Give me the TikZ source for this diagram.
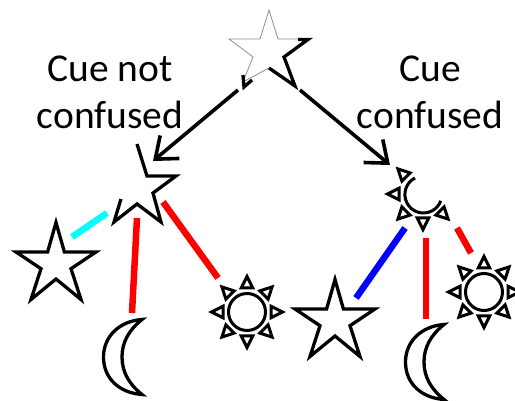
\documentclass[tikz,border=0pt]{standalone}
\usepackage{fontspec}
\setmainfont{Carlito}
\usetikzlibrary{arrows.meta}
\definecolor{purecyan}{RGB}{0,255,255}
\definecolor{purered}{RGB}{255,0,0}
\definecolor{pureblue}{RGB}{0,0,255}
\tikzset{
  shapeline/.style={draw=black,line width=3.3pt,line join=miter,miter limit=10},
  sunline/.style={draw=black,line width=3pt,line join=miter,miter limit=10},
  thinline/.style={draw=black!45,line width=0.8pt},
  arrowline/.style={draw=black,line width=3.6pt,-{Straight Barb[length=19pt,width=30pt,line width=3.6pt]}},
  link/.style={line width=6.5pt},
  lab/.style={font=\fontsize{39.5}{47}\selectfont,align=center,inner sep=0pt,text=black}
}
% star with top tip at the origin
\newcommand{\fullstar}{(0,3.5) -- (8.4,33) -- (40,33) -- (15,49.7) -- (25,80.5) -- (0,60) -- (-25,80.5) -- (-15,49.7) -- (-40,33) -- (-8.4,33) -- cycle}
\newcommand{\moonshape}{(-1,1.5) .. controls (-23,3) and (-39.5,18) .. (-39.5,39) .. controls (-39.5,61) and (-23,75) .. (-1,76.5) .. controls (-14,66) and (-21,54) .. (-21,39) .. controls (-21,24) and (-14,12) .. (-1,1.5) -- cycle}
\newcommand{\sunray}[1]{\draw[sunline,rotate=#1] (0,-35.5) -- (5.8,-24) -- (-5.8,-24) -- cycle;}
\begin{document}
\begin{tikzpicture}[x=1pt,y=-1pt]
\useasboundingbox (0,0) rectangle (515,401);
\clip (0,0) rectangle (515,401);
\coordinate (rootL) at (238,90);
\coordinate (rootR) at (300,90);
\coordinate (midL) at (153,161);
\coordinate (midR) at (390,165);
\coordinate (a1) at (107,213); \coordinate (a2) at (72,237);
\coordinate (b1) at (137,218); \coordinate (b2) at (132,313);
\coordinate (c1) at (163,202); \coordinate (c2) at (218,278);
\coordinate (d1) at (405,228); \coordinate (d2) at (356,298);
\coordinate (e1) at (426,238); \coordinate (e2) at (426,319);
\coordinate (f1) at (457,228); \coordinate (f2) at (471,253);
% root star
\draw[thinline] (300,39) -- (278,39) -- (269,10) -- (260,39) -- (229,39) -- (253,57) -- (243,82) -- (269,68);
\draw[shapeline] (269,68) -- (295,86) -- (284,57) -- (308,39.5) -- (298,39.5);
\draw[shapeline] (243,75) -- (244,87) -- (252,80);
% arrows
\draw[arrowline] (rootL) -- (midL);
\draw[arrowline] (rootR) -- (midR);
% partial star
\draw[shapeline] (137,144) -- (147,176) -- (176,176) -- (153,193) -- (161,222) -- (137,204) -- (114,222) -- (121,199);
% partial sun
\begin{scope}[shift={(423,194)}]
  \draw[sunline] (-8,-16) arc[start angle=243,end angle=20,radius=18.5];
  \sunray{45}\sunray{90}\sunray{135}\sunray{180}\sunray{225}
\end{scope}
% links
\draw[link,purecyan] (a1) -- (a2);
\draw[link,purered] (b1) -- (b2);
\draw[link,purered] (c1) -- (c2);
\draw[link,pureblue] (d1) -- (d2);
\draw[link,purered] (e1) -- (e2);
\draw[link,purered] (f1) -- (f2);
% leaves
\draw[shapeline,shift={(56,219)}] \fullstar;
\draw[shapeline,shift={(335,276)}] \fullstar;
\draw[shapeline,shift={(143,318)}] \moonshape;
\draw[shapeline,shift={(445,323)}] \moonshape;
\begin{scope}[shift={(247,312)}]
  \draw[sunline] (0,0) circle[radius=18.5];
  \foreach \a in {0,45,...,315} {\sunray{\a}}
\end{scope}
\begin{scope}[shift={(484,292)}]
  \draw[sunline] (0,0) circle[radius=18.5];
  \foreach \a in {0,45,...,315} {\sunray{\a}}
\end{scope}
% labels
\node[lab] (l1) at (110,92) {Cue not\\confused};
\node[lab] (l2) at (430,92) {Cue\\confused};
\end{tikzpicture}
\end{document}
